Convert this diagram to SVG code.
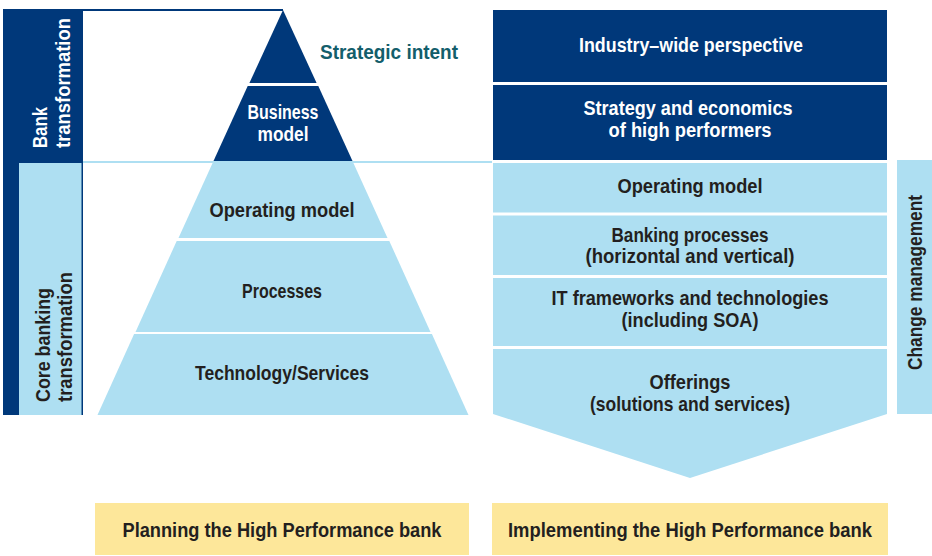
<svg xmlns="http://www.w3.org/2000/svg" width="932" height="556" viewBox="0 0 932 556">
<style>
.dk{fill:#00387a}
.lt{fill:#aedff2}
.yl{fill:#fde79a}
.t{font-family:"Liberation Sans",Arial,sans-serif;font-weight:bold;font-size:21px;text-anchor:middle}
.w{fill:#ffffff}
.k{fill:#231f20}
.s{text-anchor:start}
</style>
<rect x="0" y="0" width="932" height="556" fill="#ffffff"/>
<g id="frame-left">
<rect class="dk" x="3" y="9" width="80" height="406"/>
<rect class="dk" x="83" y="9" width="200" height="2"/>
<rect class="lt" x="19" y="163" width="62.5" height="252"/>
<text class="t w s" transform="translate(47,148) rotate(-90)" textLength="41" lengthAdjust="spacingAndGlyphs">Bank</text>
<text class="t w s" transform="translate(70,148) rotate(-90)" textLength="130" lengthAdjust="spacingAndGlyphs">transformation</text>
<text class="t k s" transform="translate(50,402) rotate(-90)" textLength="114" lengthAdjust="spacingAndGlyphs">Core banking</text>
<text class="t k s" transform="translate(72,402) rotate(-90)" textLength="130" lengthAdjust="spacingAndGlyphs">transformation</text>
</g>
<g id="divider">
<rect class="lt" x="83" y="161" width="409" height="2"/>
</g>
<g id="strategic-intent">
<polygon class="dk" points="283,10 316.6,83 249.4,83"/>
<text class="t s" x="320" y="59" fill="#135e6b" font-size="22" textLength="138" lengthAdjust="spacingAndGlyphs">Strategic intent</text>
</g>
<g id="business-model">
<polygon class="dk" points="247.7,86 318.3,86 352.5,161 213.5,161"/>
<text class="t w" x="283" y="119" textLength="71" lengthAdjust="spacingAndGlyphs">Business</text>
<text class="t w" x="283" y="141" textLength="51" lengthAdjust="spacingAndGlyphs">model</text>
</g>
<g id="operating-model-left">
<polygon class="lt" points="212.6,163 353.4,163 387.5,238 178.5,238"/>
<text class="t k" x="282" y="217" textLength="145" lengthAdjust="spacingAndGlyphs">Operating model</text>
</g>
<g id="processes">
<polygon class="lt" points="176.7,241 389.3,241 430.5,332 135.5,332"/>
<text class="t k" x="282" y="298" textLength="80" lengthAdjust="spacingAndGlyphs">Processes</text>
</g>
<g id="technology">
<polygon class="lt" points="134.1,334 431.9,334 468.5,415 97.5,415"/>
<text class="t k" x="282" y="380" textLength="174" lengthAdjust="spacingAndGlyphs">Technology/Services</text>
</g>
<g id="industry-wide">
<rect class="dk" x="493" y="10" width="394" height="72"/>
<text class="t w" x="691" y="52" textLength="224" lengthAdjust="spacingAndGlyphs">Industry–wide perspective</text>
</g>
<g id="strategy-economics">
<rect class="dk" x="493" y="85" width="394" height="75"/>
<text class="t w" x="688" y="115" textLength="209" lengthAdjust="spacingAndGlyphs">Strategy and economics</text>
<text class="t w" x="690" y="137" textLength="163" lengthAdjust="spacingAndGlyphs">of high performers</text>
</g>
<g id="operating-model-right">
<rect class="lt" x="493" y="163" width="394" height="49.5"/>
<text class="t k" x="690" y="193" textLength="145" lengthAdjust="spacingAndGlyphs">Operating model</text>
</g>
<g id="banking-processes">
<rect class="lt" x="493" y="215.5" width="394" height="59.5"/>
<text class="t k" x="690" y="242" textLength="157" lengthAdjust="spacingAndGlyphs">Banking processes</text>
<text class="t k" x="690" y="263" textLength="209" lengthAdjust="spacingAndGlyphs">(horizontal and vertical)</text>
</g>
<g id="it-frameworks">
<rect class="lt" x="493" y="278" width="394" height="68"/>
<text class="t k" x="690" y="305" textLength="277" lengthAdjust="spacingAndGlyphs">IT frameworks and technologies</text>
<text class="t k" x="690" y="327" textLength="137" lengthAdjust="spacingAndGlyphs">(including SOA)</text>
</g>
<g id="offerings">
<polygon class="lt" points="493,349 887,349 887,414 690,478 493,414"/>
<text class="t k" x="690" y="389" textLength="81" lengthAdjust="spacingAndGlyphs">Offerings</text>
<text class="t k" x="690" y="411" textLength="200" lengthAdjust="spacingAndGlyphs">(solutions and services)</text>
</g>
<g id="change-management">
<rect class="lt" x="897" y="160" width="35" height="254"/>
<text class="t k s" transform="translate(922,370) rotate(-90)" font-size="22" textLength="175" lengthAdjust="spacingAndGlyphs">Change management</text>
</g>
<g id="planning">
<rect class="yl" x="95" y="503" width="374" height="52"/>
<text class="t k" x="282" y="537" textLength="319" lengthAdjust="spacingAndGlyphs">Planning the High Performance bank</text>
</g>
<g id="implementing">
<rect class="yl" x="492" y="503" width="396" height="52"/>
<text class="t k" x="690" y="537" textLength="364" lengthAdjust="spacingAndGlyphs">Implementing the High Performance bank</text>
</g>
<g id="connectors"></g>
</svg>
